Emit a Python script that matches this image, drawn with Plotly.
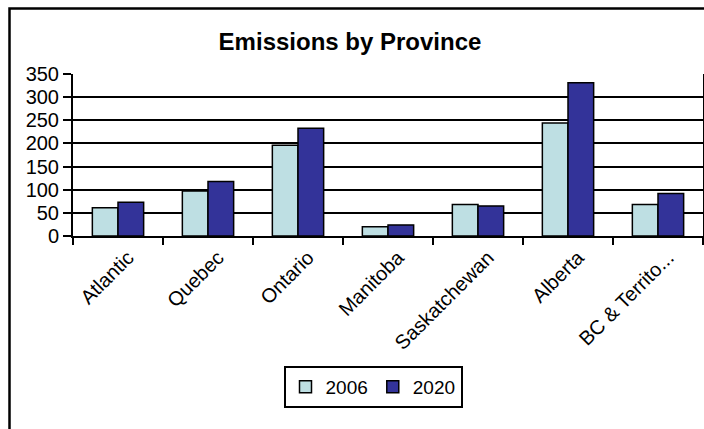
import plotly.graph_objects as go

# Greenhouse gas emissions (Mt) by province, 2006 vs 2020
provinces = ["Atlantic", "Quebec", "Ontario", "Manitoba", "Saskatchewan", "Alberta", "BC & Territo..."]
emissions_2006 = [61, 97, 196, 20, 68, 244, 68]
emissions_2020 = [73, 118, 233, 24, 65, 331, 92]
y_ticks = [0, 50, 100, 150, 200, 250, 300, 350]

W, H = 704, 429
L, R, T, B = 73, 1, 74, 193
plot_w = W - L - R
plot_h = H - T - B

FONT = "Liberation Sans, Arial, sans-serif"
LIGHT = "#BEDFE3"
DARK = "#333399"

fig = go.Figure()
fig.add_trace(go.Bar(
    name="2006", x=provinces, y=emissions_2006,
    marker=dict(color=LIGHT, line=dict(color="black", width=1.5)),
))
fig.add_trace(go.Bar(
    name="2020", x=provinces, y=emissions_2020,
    marker=dict(color=DARK, line=dict(color="black", width=1.5)),
))


def px_x(p):
    return (p - L) / plot_w


def px_y(p):
    return (H - B - p) / plot_h


fig.update_layout(
    width=W, height=H,
    margin=dict(l=L, r=R, t=T, b=B, autoexpand=False),
    paper_bgcolor="white", plot_bgcolor="white",
    font=dict(family=FONT, color="black", size=20),
    barmode="group", bargap=0.43, bargroupgap=0,
    title=dict(
        text="Emissions by Province",
        font=dict(family=FONT, size=24, weight="bold", color="black"),
        x=350 / W, xanchor="center", xref="container",
        y=1 - 42 / H, yanchor="middle", yref="container",
    ),
    xaxis=dict(
        type="category", range=[-0.5, 6.5],
        tickangle=-45, tickson="boundaries",
        ticks="outside", ticklen=7, tickwidth=2, tickcolor="black",
        ticklabelshift=10,
        showline=True, linecolor="black", linewidth=2,
        showgrid=False, tickfont=dict(size=20),
    ),
    yaxis=dict(
        range=[0, 350], tickvals=y_ticks,
        ticks="outside", ticklen=8, tickwidth=2, tickcolor="black",
        showline=True, linecolor="black", linewidth=2, mirror=True,
        showgrid=True, gridcolor="black", gridwidth=1.5,
        zeroline=False, tickfont=dict(size=20),
    ),
    legend=dict(
        orientation="h",
        x=px_x(373), xanchor="center",
        y=px_y(366), yanchor="top",
        bordercolor="black", borderwidth=2, bgcolor="white",
        font=dict(size=19),
        itemwidth=30, tracegroupgap=0,
    ),
    shapes=[
        dict(
            type="rect", xref="paper", yref="paper",
            x0=px_x(9.5), x1=px_x(W + 50),
            y0=px_y(H + 50), y1=px_y(8.5),
            line=dict(color="black", width=2.5), layer="above",
        )
    ],
)

fig.write_html("out.html")
